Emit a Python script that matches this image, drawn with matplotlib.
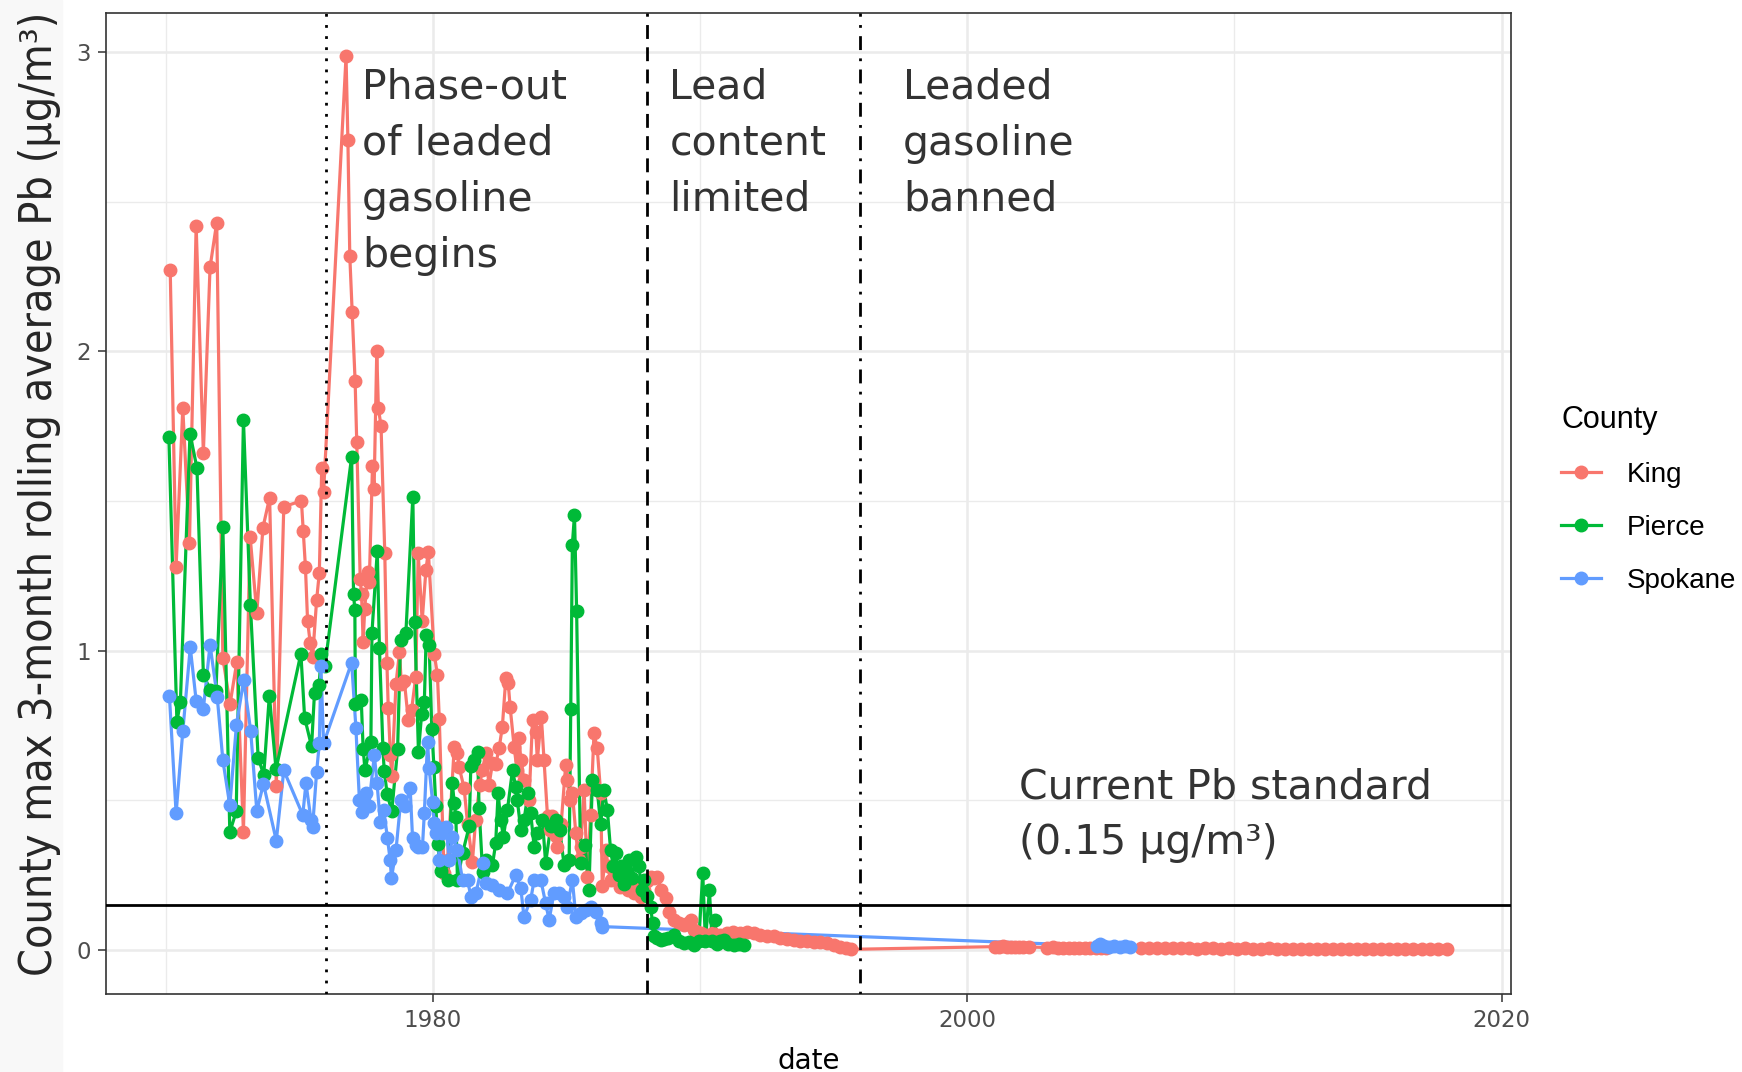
import numpy as np
import matplotlib
matplotlib.use("Agg")
import matplotlib.pyplot as plt
from matplotlib.lines import Line2D
from matplotlib.patches import Rectangle


OUTPUT_FIG = "out.png"

COUNTIES = ["King", "Pierce", "Spokane"]
COLORS = {"King": "#F8766D", "Pierce": "#00BA38", "Spokane": "#619CFF"}

king_year = [
    1970.17, 1970.39, 1970.64, 1970.89, 1971.14, 1971.41, 1971.66, 1971.91,
    1972.14, 1972.41, 1972.66, 1972.91, 1973.16, 1973.41, 1973.64, 1973.89,
    1974.14, 1974.42, 1975.08, 1975.15, 1975.23, 1975.31, 1975.41, 1975.50,
    1975.65, 1975.75, 1975.84, 1975.91, 1976.75, 1976.82, 1976.89, 1976.98,
    1977.09, 1977.15, 1977.28, 1977.33, 1977.39, 1977.45, 1977.56, 1977.62,
    1977.74, 1977.80, 1977.90, 1977.96, 1978.06, 1978.20, 1978.28, 1978.33,
    1978.41, 1978.46, 1978.62, 1978.75, 1978.82, 1978.93, 1979.08, 1979.20,
    1979.36, 1979.45, 1979.60, 1979.74, 1979.83, 1980.05, 1980.17, 1980.24,
    1980.42, 1980.55, 1980.80, 1980.92, 1980.98, 1981.17, 1981.30, 1981.48,
    1981.60, 1981.75, 1981.85, 1981.98, 1982.10, 1982.23, 1982.35, 1982.48,
    1982.60, 1982.73, 1982.82, 1982.89, 1983.04, 1983.15, 1983.23, 1983.29,
    1983.41, 1983.60, 1983.73, 1983.85, 1983.91, 1984.06, 1984.16, 1984.29,
    1984.40, 1984.47, 1984.60, 1984.66, 1984.80, 1984.97, 1985.03, 1985.12,
    1985.22, 1985.35, 1985.45, 1985.53, 1985.66, 1985.78, 1985.90, 1986.03,
    1986.15, 1986.28, 1986.34, 1986.47, 1986.56, 1986.65, 1986.78, 1986.90,
    1987.02, 1987.15, 1987.30, 1987.42, 1987.53, 1987.65, 1987.78, 1987.90,
    1988.02, 1988.15, 1988.27, 1988.40, 1988.55, 1988.71, 1988.83, 1989.02,
    1989.20, 1989.40, 1989.55, 1989.65, 1989.77, 1989.90, 1990.05, 1990.27,
    1990.50, 1990.75, 1991.00, 1991.25, 1991.50, 1991.76, 1992.00, 1992.26,
    1992.50, 1992.76, 1993.00, 1993.25, 1993.50, 1993.75, 1994.00, 1994.26,
    1994.50, 1994.75, 1995.00, 1995.25, 1995.45, 1995.63,
    2001.05, 2001.20, 2001.35, 2001.50, 2001.65, 2001.80, 2001.95, 2002.10,
    2002.30, 2003.00, 2003.20, 2003.40, 2003.60, 2003.80, 2004.00, 2004.20,
    2004.40, 2004.60, 2004.80, 2005.00, 2005.20, 2006.50, 2006.80, 2007.10,
    2007.40, 2007.70, 2008.00, 2008.30, 2008.60, 2008.90, 2009.20, 2009.50,
    2009.80, 2010.10, 2010.40, 2010.70, 2011.00, 2011.30, 2011.60, 2011.90,
    2012.20, 2012.50, 2012.80, 2013.10, 2013.40, 2013.70, 2014.00, 2014.30,
    2014.60, 2014.90, 2015.20, 2015.50, 2015.80, 2016.10, 2016.40, 2016.70,
    2017.00, 2017.30, 2017.60, 2017.95,
]
king_pb = [
    2.27, 1.28, 1.81, 1.36, 2.42, 1.66, 2.28, 2.43,
    0.975, 0.822, 0.961, 0.395, 1.381, 1.125, 1.411, 1.511,
    0.548, 1.481, 1.50, 1.40, 1.28, 1.10, 1.025, 0.98,
    1.17, 1.26, 1.61, 1.53, 2.985, 2.704, 2.319, 2.13,
    1.899, 1.698, 1.24, 1.19, 1.03, 1.14, 1.264, 1.23,
    1.615, 1.54, 2.0, 1.81, 1.75, 1.325, 0.958, 0.807,
    0.651, 0.58, 0.89, 0.994, 0.89, 0.90, 0.768, 0.80,
    0.913, 1.325, 1.10, 1.27, 1.33, 0.99, 0.919, 0.771,
    0.256, 0.30, 0.679, 0.657, 0.612, 0.54, 0.42, 0.295,
    0.434, 0.55, 0.60, 0.657, 0.55, 0.624, 0.62, 0.674,
    0.746, 0.908, 0.891, 0.813, 0.679, 0.60, 0.707, 0.635,
    0.568, 0.501, 0.768, 0.729, 0.635, 0.779, 0.635, 0.446,
    0.40, 0.446, 0.38, 0.345, 0.42, 0.618, 0.568, 0.50,
    0.524, 0.39, 0.30, 0.345, 0.535, 0.245, 0.45, 0.724,
    0.674, 0.524, 0.212, 0.334, 0.28, 0.234, 0.26, 0.234,
    0.21, 0.234, 0.20, 0.22, 0.189, 0.21, 0.178, 0.20,
    0.23, 0.245, 0.24, 0.245, 0.20, 0.173, 0.128, 0.10,
    0.09, 0.084, 0.09, 0.10, 0.067, 0.06, 0.055, 0.05,
    0.055, 0.05, 0.056, 0.06, 0.055, 0.061, 0.055, 0.05,
    0.048, 0.045, 0.04, 0.036, 0.033, 0.03, 0.03, 0.028,
    0.025, 0.022, 0.015, 0.011, 0.006, 0.002,
    0.011, 0.010, 0.012, 0.010, 0.009, 0.011, 0.010, 0.009,
    0.010, 0.008, 0.009, 0.007, 0.008, 0.007, 0.008, 0.006,
    0.007, 0.006, 0.007, 0.006, 0.006, 0.006, 0.005, 0.006,
    0.005, 0.005, 0.006, 0.005, 0.004, 0.005, 0.005, 0.004,
    0.005, 0.004, 0.005, 0.004, 0.004, 0.005, 0.004, 0.004,
    0.003, 0.004, 0.004, 0.003, 0.004, 0.003, 0.003, 0.004,
    0.003, 0.003, 0.004, 0.003, 0.003, 0.004, 0.003, 0.003,
    0.003, 0.002, 0.003, 0.002,
]

pierce_year = [
    1970.12, 1970.42, 1970.55, 1970.91, 1971.17, 1971.41, 1971.66, 1971.88,
    1972.14, 1972.40, 1972.64, 1972.91, 1973.17, 1973.46, 1973.67, 1973.88,
    1974.13, 1975.06, 1975.20, 1975.46, 1975.57, 1975.74, 1975.83, 1975.96,
    1976.96, 1977.03, 1977.08, 1977.10, 1977.32, 1977.39, 1977.46, 1977.68,
    1977.72, 1977.92, 1978.00, 1978.13, 1978.18, 1978.29, 1978.46, 1978.68,
    1978.79, 1978.99, 1979.25, 1979.32, 1979.46, 1979.58, 1979.68, 1979.75,
    1979.86, 1979.96, 1980.04, 1980.11, 1980.18, 1980.29, 1980.36, 1980.55,
    1980.73, 1980.80, 1980.86, 1980.92, 1981.11, 1981.36, 1981.42, 1981.55,
    1981.67, 1981.73, 1981.86, 1982.00, 1982.23, 1982.35, 1982.44, 1982.54,
    1982.64, 1982.79, 1982.98, 1983.10, 1983.16, 1983.29, 1983.41, 1983.56,
    1983.66, 1983.79, 1983.91, 1984.10, 1984.22, 1984.41, 1984.60, 1984.75,
    1984.91, 1985.10, 1985.16, 1985.22, 1985.30, 1985.38, 1985.53, 1985.70,
    1985.84, 1985.97, 1986.15, 1986.28, 1986.40, 1986.53, 1986.65, 1986.75,
    1986.84, 1986.95, 1987.03, 1987.15, 1987.25, 1987.34, 1987.45, 1987.59,
    1987.71, 1987.82, 1987.90, 1988.02, 1988.15, 1988.22, 1988.27, 1988.40,
    1988.52, 1988.65, 1988.80, 1989.02, 1989.20, 1989.40, 1989.60, 1989.77,
    1989.95, 1990.10, 1990.20, 1990.35, 1990.45, 1990.55, 1990.64, 1990.75,
    1990.89, 1991.05, 1991.27, 1991.45, 1991.64,
]
pierce_pb = [
    1.712, 0.763, 0.828, 1.725, 1.61, 0.92, 0.87, 0.866,
    1.412, 0.393, 0.463, 1.771, 1.153, 0.642, 0.585, 0.85,
    0.604, 0.99, 0.776, 0.68, 0.86, 0.885, 0.99, 0.949,
    1.648, 1.19, 1.135, 0.821, 0.834, 0.672, 0.60, 0.693,
    1.06, 1.333, 1.009, 0.674, 0.597, 0.521, 0.463, 0.67,
    1.035, 1.06, 1.514, 1.096, 0.661, 0.789, 0.828, 1.051,
    1.019, 0.738, 0.61, 0.482, 0.354, 0.265, 0.29, 0.234,
    0.557, 0.49, 0.445, 0.234, 0.323, 0.413, 0.613, 0.635,
    0.662, 0.473, 0.262, 0.30, 0.284, 0.356, 0.523, 0.434,
    0.378, 0.468, 0.601, 0.545, 0.501, 0.401, 0.434, 0.523,
    0.457, 0.345, 0.39, 0.434, 0.29, 0.413, 0.434, 0.40,
    0.284, 0.30, 0.804, 1.354, 1.454, 1.131, 0.29, 0.35,
    0.20, 0.568, 0.535, 0.42, 0.535, 0.468, 0.334, 0.28,
    0.323, 0.25, 0.279, 0.22, 0.26, 0.301, 0.24, 0.312,
    0.279, 0.20, 0.234, 0.18, 0.145, 0.09, 0.045, 0.04,
    0.033, 0.035, 0.04, 0.05, 0.03, 0.022, 0.025, 0.017,
    0.03, 0.256, 0.03, 0.20, 0.03, 0.10, 0.02, 0.03,
    0.033, 0.02, 0.017, 0.02, 0.017,
]

spokane_year = [
    1970.14, 1970.39, 1970.64, 1970.92, 1971.14, 1971.41, 1971.66, 1971.93,
    1972.14, 1972.40, 1972.65, 1972.92, 1973.18, 1973.41, 1973.66, 1974.14,
    1974.42, 1975.13, 1975.25, 1975.44, 1975.50, 1975.65, 1975.75, 1975.81,
    1975.91, 1976.96, 1977.12, 1977.25, 1977.33, 1977.49, 1977.60, 1977.81,
    1977.91, 1978.03, 1978.16, 1978.30, 1978.40, 1978.45, 1978.62, 1978.80,
    1978.95, 1979.15, 1979.24, 1979.35, 1979.45, 1979.61, 1979.68, 1979.80,
    1979.86, 1979.99, 1980.05, 1980.11, 1980.17, 1980.24, 1980.36, 1980.49,
    1980.61, 1980.73, 1980.92, 1981.11, 1981.30, 1981.42, 1981.61, 1981.86,
    1981.98, 1982.23, 1982.48, 1982.79, 1983.10, 1983.29, 1983.41, 1983.66,
    1983.79, 1984.04, 1984.22, 1984.35, 1984.53, 1984.72, 1984.91, 1985.03,
    1985.22, 1985.35, 1985.53, 1985.72, 1985.90, 1986.09, 1986.28, 1986.34,
    2004.85, 2004.95, 2005.10, 2005.30, 2005.50, 2005.70, 2005.90, 2006.10,
]
spokane_pb = [
    0.849, 0.456, 0.73, 1.011, 0.833, 0.805, 1.02, 0.844,
    0.634, 0.483, 0.753, 0.901, 0.733, 0.465, 0.555, 0.365,
    0.60, 0.451, 0.557, 0.434, 0.412, 0.596, 0.69, 0.947,
    0.69, 0.96, 0.74, 0.501, 0.462, 0.523, 0.48, 0.651,
    0.557, 0.429, 0.468, 0.373, 0.301, 0.24, 0.334, 0.501,
    0.48, 0.54, 0.373, 0.35, 0.345, 0.345, 0.457, 0.696,
    0.607, 0.495, 0.423, 0.39, 0.412, 0.30, 0.39, 0.412,
    0.30, 0.378, 0.334, 0.234, 0.234, 0.178, 0.189, 0.29,
    0.223, 0.217, 0.20, 0.189, 0.25, 0.206, 0.111, 0.167,
    0.234, 0.234, 0.156, 0.10, 0.189, 0.189, 0.178, 0.145,
    0.234, 0.111, 0.122, 0.134, 0.145, 0.128, 0.089, 0.078,
    0.014, 0.020, 0.012, 0.010, 0.014, 0.010, 0.012, 0.011,
]

SERIES = {
    "King": (king_year, king_pb),
    "Pierce": (pierce_year, pierce_pb),
    "Spokane": (spokane_year, spokane_pb),
}

# policy dates and their labels
EVENT_YEARS = [1976.0, 1988.0, 1996.0]
EVENT_STYLES = [(0, (1, 3)), (0, (5, 3)), (0, (1, 3, 5, 3))]
EVENT_LABELS = ["Phase-out\nof leaded\ngasoline\nbegins", "Lead\ncontent\nlimited",
                "Leaded\ngasoline\nbanned"]
EVENT_LABEL_X = [1977.35, 1988.85, 1997.6]

PB_STANDARD = 0.15
STANDARD_LABEL = "Current Pb standard\n(0.15 \u03bcg/m\u00b3)"

TEXT_GREY = "#333333"


def main():
    fig = plt.figure(figsize=(17.42, 10.72), dpi=100)
    fig.patches.append(Rectangle((0, 0), 62 / 1742, 1, transform=fig.transFigure,
                                 color="#f8f8f8", zorder=-5))

    ax = fig.add_axes([0.0606, 0.0728, 0.8068, 0.9151])

    for county in COUNTIES:
        x, y = SERIES[county]
        ax.plot(x, y, color=COLORS[county], linewidth=2.3, zorder=3)
    for county in COUNTIES:
        x, y = SERIES[county]
        ax.plot(x, y, "o", color=COLORS[county], markersize=9, zorder=4)

    for yr, ls in zip(EVENT_YEARS, EVENT_STYLES):
        ax.axvline(yr, color="black", linewidth=2.0, linestyle=ls, zorder=5)
    ax.axhline(PB_STANDARD, color="black", linewidth=2.0, zorder=5)

    for label, lx in zip(EVENT_LABELS, EVENT_LABEL_X):
        ax.text(lx, 2.947, label, fontsize=29.5, color=TEXT_GREY, va="top",
                ha="left", linespacing=1.52, zorder=6)
    ax.text(2001.94, 0.61, STANDARD_LABEL, fontsize=29.5, color=TEXT_GREY,
            va="top", ha="left", linespacing=1.52, zorder=6)

    ax.set_xlim(1967.75, 2020.35)
    ax.set_ylim(-0.147, 3.13)
    ax.set_xticks([1980, 2000, 2020])
    ax.set_xticks([1970, 1990, 2010], minor=True)
    ax.set_yticks([0, 1, 2, 3])
    ax.set_yticks([0.5, 1.5, 2.5], minor=True)

    ax.grid(True, which="major", color="#ebebeb", linewidth=1.8, zorder=0)
    ax.grid(True, which="minor", color="#ebebeb", linewidth=1.0, zorder=0)
    ax.set_axisbelow(True)

    ax.tick_params(which="major", length=5.5, width=1.1, color="#333333",
                   labelcolor="#4d4d4d", labelsize=16.5, pad=5)
    ax.tick_params(which="minor", length=0)
    for spine in ax.spines.values():
        spine.set_color("#333333")
        spine.set_linewidth(1.2)

    ax.set_xlabel("date", fontsize=20, color="black", labelpad=11)

    fig.text(40 / 1742, 1 - 494 / 1072,
             "County max 3-month rolling average Pb (\u03bcg/m\u00b3)",
             rotation=90, ha="center", va="center", fontsize=32,
             fontstretch="condensed", color="#262626")

    handles = [Line2D([], [], color=COLORS[c], marker="o", markersize=9,
                      linewidth=2.3) for c in COUNTIES]
    ax.legend(handles, COUNTIES, title="County", loc="upper left",
              bbox_to_anchor=(1561 / 1742, 1 - 405 / 1072),
              bbox_transform=fig.transFigure, frameon=False,
              prop={"family": "Liberation Sans", "size": 20},
              title_fontproperties={"family": "Liberation Sans", "size": 22},
              alignment="left", handlelength=1.45, handletextpad=0.9,
              labelspacing=0.97, borderpad=0, borderaxespad=0)

    fig.savefig(OUTPUT_FIG, dpi=100)


if __name__ == "__main__":
    main()
